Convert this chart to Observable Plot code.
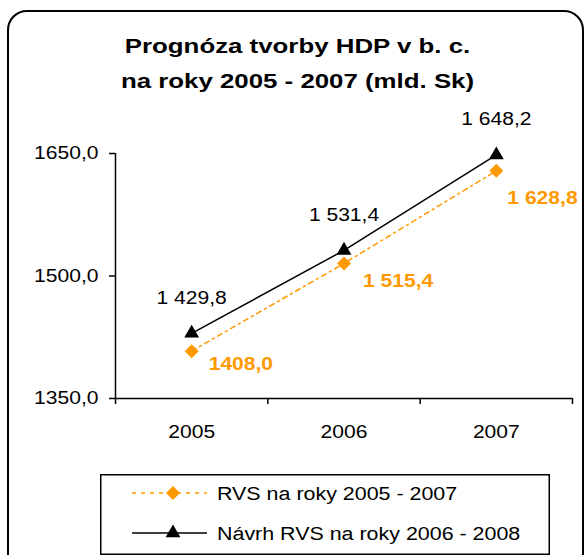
<!DOCTYPE html>
<html>
<head>
<meta charset="utf-8">
<script src="https://cdn.jsdelivr.net/npm/d3@7"></script>
<script src="https://cdn.jsdelivr.net/npm/@observablehq/plot@0.6"></script>
<style>
  html, body { margin: 0; padding: 0; background: #fff; }
  body { font-family: "Liberation Sans", Arial, sans-serif; }
  #wrap { position: relative; width: 585px; height: 555px; overflow: hidden; background: #fff; }
  #frame { position: absolute; left: 7px; top: 10px; width: 577px; height: 570px; border: 2px solid #000; border-radius: 20px; box-sizing: border-box; pointer-events: none; }
  #title { position: absolute; left: 0; top: 0; }
  #chart { position: absolute; left: 0; top: 100px; }
  #legend { position: absolute; left: 100px; top: 474px; }
</style>
</head>
<body>
<div id="wrap">
  <svg id="title" width="585" height="100"></svg>
  <div id="chart"></div>
  <svg id="legend" width="450" height="81"></svg>
  <div id="frame"></div>
</div>
<script>
const titleLines = ["Prognóza tvorby HDP v b. c.", "na roky 2005 - 2007 (mld. Sk)"];
const years = [2005, 2006, 2007];
const rvs = [1408.0, 1515.4, 1628.8];
const navrh = [1429.8, 1531.4, 1648.2];
const rvsLabels = ["1408,0", "1 515,4", "1 628,8"];
const navrhLabels = ["1 429,8", "1 531,4", "1 648,2"];
const yTicks = [1350, 1500, 1650];
const seriesNames = ["RVS na roky 2005 - 2007", "Návrh RVS na roky 2006 - 2008"];

const ORANGE = "#FF9900";
const FONT = '"Liberation Sans", Arial, sans-serif';
const fmt = d => d.toFixed(1).replace(".", ",");

// horizontally widen glyphs (reference text is rendered wide)
function stretch(root, k) {
  root.querySelectorAll("text").forEach(t => {
    const L = t.getComputedTextLength();
    if (L > 0) {
      t.setAttribute("textLength", (L * k).toFixed(2));
      t.setAttribute("lengthAdjust", "spacingAndGlyphs");
    }
  });
}

// title
const tsvg = d3.select("#title");
tsvg.selectAll("text").data(titleLines).join("text")
  .attr("x", 297.5).attr("y", (d, i) => 53 + i * 35)
  .attr("text-anchor", "middle")
  .attr("font-family", FONT).attr("font-weight", "bold").attr("font-size", 21)
  .text(d => d);
stretch(tsvg.node(), 1.23);

const rvsData = years.map((y, i) => ({year: y, value: rvs[i], label: rvsLabels[i], i}));
const navrhData = years.map((y, i) => ({year: y, value: navrh[i], label: navrhLabels[i], i}));
const boundaries = [years[0] - 0.5, ...years.map(y => y + 0.5)];

const orangeOffsets = [[17, 13], [19, 17.5], [11, 27]];

const plot = Plot.plot({
  width: 585,
  height: 350,
  marginLeft: 115,
  marginRight: 13,
  marginTop: 53,
  marginBottom: 52,
  style: {fontFamily: FONT, fontSize: "18px", background: "transparent", color: "#000", overflow: "visible"},
  x: {type: "linear", domain: [boundaries[0], boundaries[boundaries.length - 1]], axis: null},
  y: {domain: [yTicks[0], yTicks[yTicks.length - 1]], axis: null},
  marks: [
    Plot.axisY(yTicks, {label: null, tickSize: 6, tickPadding: 11, tickFormat: fmt, fontSize: 18, strokeWidth: 1.5, fill: "#000"}),
    Plot.axisX(boundaries, {label: null, tickSize: 6, tickFormat: () => "", strokeWidth: 1.5}),
    Plot.axisX(years, {label: null, tickSize: 0, tickPadding: 27, tickFormat: d => String(d), fontSize: 18, fill: "#000"}),
    Plot.ruleX([boundaries[0]], {stroke: "#000", strokeWidth: 1.5}),
    Plot.ruleY([yTicks[0]], {stroke: "#000", strokeWidth: 1.5}),
    Plot.line(rvsData, {x: "year", y: "value", stroke: ORANGE, strokeWidth: 1.5, strokeDasharray: "5,4,2,4"}),
    Plot.dot(rvsData, {x: "year", y: "value", symbol: "diamond2", r: 6.3, fill: ORANGE, stroke: null}),
    Plot.line(navrhData, {x: "year", y: "value", stroke: "#000", strokeWidth: 1.5}),
    Plot.dot(navrhData, {x: "year", y: "value", symbol: "triangle", r: 5.5, fill: "#000", stroke: null}),
    Plot.text(navrhData, {x: "year", y: "value", text: "label", dy: -35.5, fontSize: 18, fill: "#000"}),
    ...orangeOffsets.map(([dx, dy], k) =>
      Plot.text(rvsData.filter(d => d.i === k), {x: "year", y: "value", text: "label", dx, dy, textAnchor: "start", fontSize: 18, fontWeight: "bold", fill: ORANGE})
    )
  ]
});
document.getElementById("chart").appendChild(plot);
stretch(plot, 1.17);

// legend
const lsvg = d3.select("#legend");
lsvg.append("rect").attr("x", 0.75).attr("y", 0.75).attr("width", 448.5).attr("height", 79.5)
  .attr("fill", "none").attr("stroke", "#000").attr("stroke-width", 1.5);
const rowY = [19, 59];
const sample = lsvg.selectAll("g").data(seriesNames).join("g")
  .attr("transform", (d, i) => `translate(0,${rowY[i]})`);
sample.append("line").attr("x1", 32).attr("x2", 107).attr("y1", 0).attr("y2", 0)
  .attr("stroke", (d, i) => i === 0 ? ORANGE : "#000").attr("stroke-width", 1.5)
  .attr("stroke-dasharray", (d, i) => i === 0 ? "4,5" : null);
sample.append("path")
  .attr("d", (d, i) => i === 0 ? d3.symbol(d3.symbolDiamond2, 125)() : d3.symbol(d3.symbolTriangle, 95)())
  .attr("transform", "translate(73,0)")
  .attr("fill", (d, i) => i === 0 ? ORANGE : "#000");
sample.append("text").attr("x", 117).attr("y", 6.5)
  .attr("font-family", FONT).attr("font-size", 18).attr("fill", "#000")
  .text(d => d);
stretch(lsvg.node(), 1.19);
</script>
</body>
</html>
